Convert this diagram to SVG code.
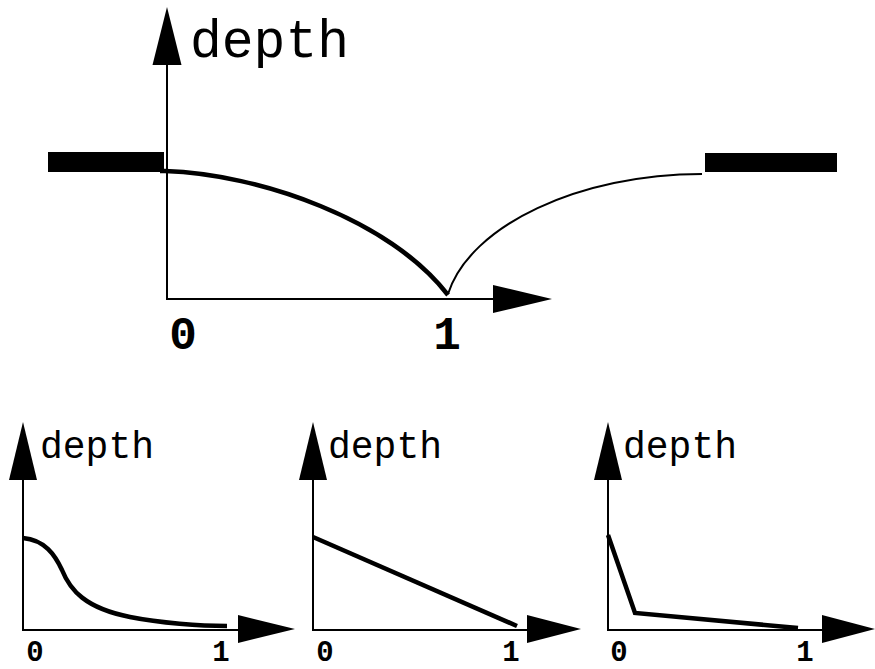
<svg xmlns="http://www.w3.org/2000/svg" width="875" height="669" viewBox="0 0 875 669">
<style>
.ax{stroke:#000;stroke-width:2;fill:none}
.head{fill:#000;stroke:none}
.crv{stroke:#000;stroke-width:4.5;fill:none;stroke-linejoin:miter}
.thin{stroke:#000;stroke-width:2;fill:none}
.lbl{font-family:"Liberation Mono","DejaVu Sans Mono",monospace;fill:#000}
.big{font-size:53px}
.sm{font-size:38px}
.num{font-weight:bold;text-anchor:middle}
.n1{font-size:46px}
.n2{font-size:29px}
</style>
<rect width="875" height="669" fill="#fff"/>
<g id="main">
  <g id="main-axes">
    <line class="ax" x1="167" y1="64" x2="167" y2="299"/>
    <polygon class="head" points="167,7 152.5,65 181.5,65"/>
    <line class="ax" x1="166" y1="299" x2="494" y2="299"/>
    <polygon class="head" points="552,299 493,285 493,313"/>
  </g>
  <rect id="bar-left" x="48" y="152" width="116" height="20" fill="#000"/>
  <rect id="bar-right" x="705" y="153" width="132" height="19" fill="#000"/>
  <path class="crv" d="M160,171 L165,171 C260,174 390,220 448,295"/>
  <path class="thin" d="M448,294 C470,225 580,174 702,174"/>
  <text class="lbl big" x="190" y="57">depth</text>
  <text class="lbl num n1" x="183" y="349">0</text>
  <text class="lbl num n1" x="447" y="349">1</text>
</g>
<g id="panel1">
  <line class="ax" x1="23" y1="479" x2="23" y2="630"/>
  <polygon class="head" points="23,422 9,480 37,480"/>
  <line class="ax" x1="22" y1="630" x2="239" y2="630"/>
  <polygon class="head" points="295,629 238,615 238,643"/>
  <path class="crv" d="M23,538 C45,540 55,555 62,570 C70,590 85,608 130,617 C160,623 200,626 227,626"/>
  <text class="lbl sm" x="40" y="458">depth</text>
  <text class="lbl num n2" x="35" y="661">0</text>
  <text class="lbl num n2" x="221" y="661">1</text>
</g>
<g id="panel2">
  <line class="ax" x1="313" y1="479" x2="313" y2="630"/>
  <polygon class="head" points="313,422 299,480 327,480"/>
  <line class="ax" x1="312" y1="630" x2="528" y2="630"/>
  <polygon class="head" points="581,629 527,615 527,643"/>
  <path class="crv" d="M313,537 L517,626"/>
  <text class="lbl sm" x="328" y="458">depth</text>
  <text class="lbl num n2" x="325" y="661">0</text>
  <text class="lbl num n2" x="511" y="661">1</text>
</g>
<g id="panel3">
  <line class="ax" x1="608" y1="479" x2="608" y2="630"/>
  <polygon class="head" points="608,422 594,480 622,480"/>
  <line class="ax" x1="607" y1="630" x2="823" y2="630"/>
  <polygon class="head" points="875,629 822,615 822,643"/>
  <path class="crv" d="M608,535 L635,613 L798,628"/>
  <text class="lbl sm" x="623" y="458">depth</text>
  <text class="lbl num n2" x="619" y="661">0</text>
  <text class="lbl num n2" x="805" y="661">1</text>
</g>
</svg>
